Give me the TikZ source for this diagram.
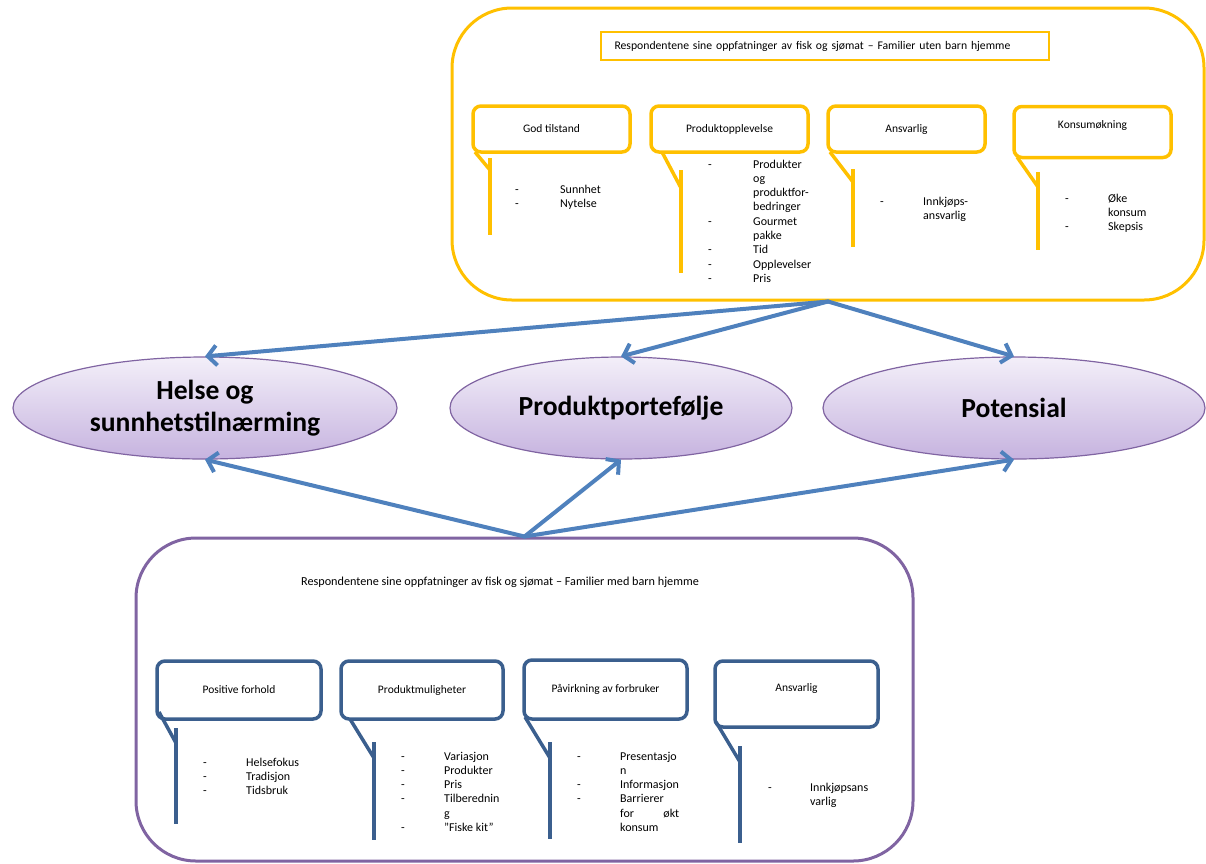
\documentclass[tikz,border=0pt]{standalone}
\usepackage{fontspec}
\setmainfont{Carlito}
\usetikzlibrary{shapes.geometric,arrows.meta}
\definecolor{ygold}{HTML}{FFC000}
\definecolor{cblue}{HTML}{3B5F8E}
\definecolor{ablue}{HTML}{4F81BD}
\definecolor{purp}{HTML}{8064A2}
\definecolor{lavtop}{HTML}{F3EFF9}
\definecolor{lavbot}{HTML}{C6B3DF}
\begin{document}
\begin{tikzpicture}[x=1pt,y=-1pt,
  bigbox/.style={draw, line width=3pt, rounded corners=60pt, inner sep=0pt},
  ybox/.style={draw=ygold, line width=3.5pt, rounded corners=8pt, minimum width=157pt, minimum height=46pt, inner sep=0pt, font=\fontsize{11.5}{14}\selectfont},
  bbox/.style={draw=cblue, line width=3.5pt, rounded corners=8pt, minimum width=163pt, minimum height=58pt, inner sep=0pt, font=\fontsize{11.5}{14}\selectfont},
  ytail/.style={ygold, line width=3.5pt},
  btail/.style={cblue, line width=3.5pt},
  lst/.style={anchor=base west, align=left, inner sep=0pt, font=\fontsize{12}{14.3}\selectfont},
  ell/.style={ellipse, draw=purp, line width=1.2pt, top color=lavtop, bottom color=lavbot, minimum height=102pt, inner sep=0pt, font=\bfseries\fontsize{27.6}{32}\selectfont, align=center},
  arr/.style={ablue, line width=4pt, line cap=round, line join=round, -{Straight Barb[length=9pt,width=20pt]}},
  ttl/.style={font=\fontsize{12.2}{14}\selectfont, inner sep=0pt}
]
\useasboundingbox (0,0) rectangle (1206,863);

% ---------- top box ----------
\node[bigbox, draw=ygold, minimum width=752pt, minimum height=292pt] (top) at (828,154) {};
\node[draw=ygold, line width=2pt, minimum width=448pt, minimum height=28pt, text width=420pt, inner xsep=14pt, inner ysep=0pt, align=left, font=\fontsize{11.7}{13}\selectfont] (t1) at (824.5,46) {Respondentene sine oppfatninger av fisk og sjømat – Familier uten barn hjemme};

\node[ybox] (g1) at (551.5,129) {God tilstand};
\node[ybox] (g2) at (729.5,129) {Produktopplevelse};
\node[ybox] (g3) at (906.5,129) {Ansvarlig};
\node[ybox, minimum height=51pt, label={[font=\fontsize{11.5}{14}\selectfont, yshift=7pt]center:Konsumøkning}] (g4) at (1092.5,132) {};

\draw[ytail] (475,152) -- (490,170);
\draw[ytail] (490,158) -- (490,235);
\draw[ytail] (662,152) -- (681,188);
\draw[ytail] (681,170) -- (681,273);
\draw[ytail] (830,152) -- (853,182);
\draw[ytail] (853,169) -- (853,247);
\draw[ytail] (1017,157) -- (1038,187);
\draw[ytail] (1038,172) -- (1038,250);

\node[lst] (gd1) at (515,207.3) {-\\-};
\node[lst] (gi1) at (560,207.3) {Sunnhet\\Nytelse};
\node[lst] (gd2) at (708,282.4) {-\\\mbox{}\\\mbox{}\\\mbox{}\\-\\\mbox{}\\-\\-\\-};
\node[lst] (gi2) at (753,282.4) {Produkter\\og\\produktfor-\\bedringer\\Gourmet\\pakke\\Tid\\Opplevelser\\Pris};
\node[lst] (gd3) at (880,205) {-};
\node[lst] (gi3) at (923,219.3) {Innkjøps-\\ansvarlig};
\node[lst] (gd4) at (1065,230.6) {-\\\mbox{}\\-};
\node[lst] (gi4) at (1108,230.6) {Øke\\konsum\\Skepsis};

% ---------- ellipses ----------
\node[ell, minimum width=384pt] (e1) at (205,408) {Helse og\\sunnhetstilnærming};
\node[ell, minimum width=342pt] (e2) at (621,408) {Produktportefølje};
\node[ell, minimum width=382pt] (e3) at (1014,408) {Potensial};

% ---------- bottom box ----------
\node[bigbox, draw=purp, minimum width=777pt, minimum height=323pt] (bot) at (524.5,699.5) {};
\node[ttl] (t2) at (500,582) {Respondentene sine oppfatninger av fisk og sjømat – Familier med barn hjemme};

\node[bbox, minimum width=164pt] (b1) at (239,690) {Positive forhold};
\node[bbox, minimum width=162pt] (b2) at (422,690) {Produktmuligheter};
\node[bbox, minimum height=59pt] (b3) at (605.5,689.5) {Påvirkning av forbruker};
\node[bbox, minimum height=66pt, label={[font=\fontsize{11.5}{14}\selectfont, yshift=6pt]center:Ansvarlig}] (b4) at (796.5,694) {};

\draw[btail] (159,712) -- (176,743);
\draw[btail] (176,728) -- (176,824);
\draw[btail] (350,719) -- (374,758);
\draw[btail] (374,742) -- (374,840);
\draw[btail] (525,717) -- (550,758);
\draw[btail] (550,742) -- (550,839);
\draw[btail] (716,722) -- (740,762);
\draw[btail] (740,746) -- (740,843);

\node[lst] (bd1) at (203,794.6) {-\\-\\-};
\node[lst] (bi1) at (246,794.6) {Helsefokus\\Tradisjon\\Tidsbruk};
\node[lst] (bd2) at (401,831.5) {-\\-\\-\\-\\\mbox{}\\-};
\node[lst] (bi2) at (444,831.5) {Variasjon\\Produkter\\Pris\\Tilberednin\\g\\"Fiske kit"};
\node[lst] (bd3) at (577,802.9) {-\\\mbox{}\\-\\-};
\node[lst] (bi3) at (620,831.5) {Presentasjo\\n\\Informasjon\\Barrierer\\\makebox[59pt][s]{for\hfill økt}\\konsum};
\node[lst] (bd4) at (768,791) {-};
\node[lst] (bi4) at (810,805.3) {Innkjøpsans\\varlig};

% ---------- arrows ----------
\draw[arr] (top.south) -- (e1.north);
\draw[arr] (top.south) -- (e2.north);
\draw[arr] (top.south) -- (e3.north);
\draw[arr] (bot.north) -- (e1.south);
\draw[arr] (bot.north) -- (e2.south);
\draw[arr] (bot.north) -- (e3.south);
\end{tikzpicture}
\end{document}
